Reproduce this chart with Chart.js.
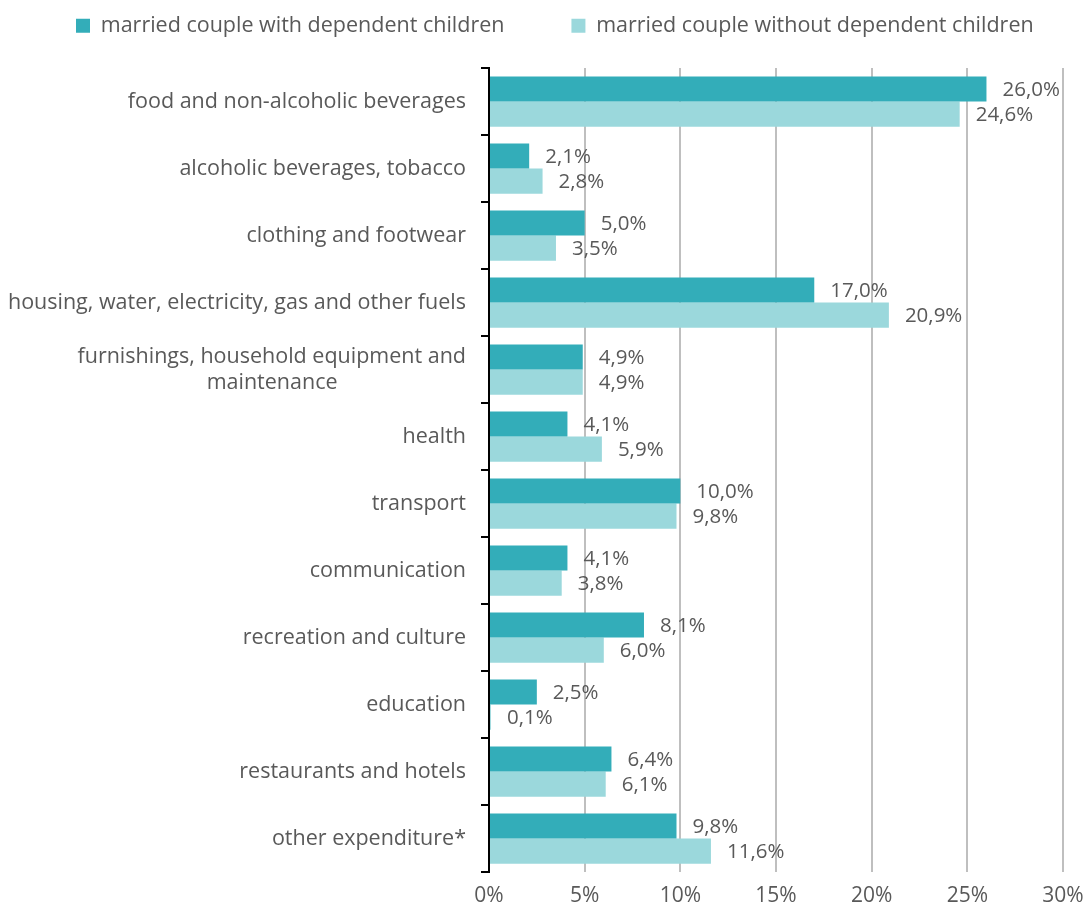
<!DOCTYPE html>
<html><head><meta charset="utf-8">
<script src="https://cdn.jsdelivr.net/npm/chart.js@4"></script>
<style>html,body{margin:0;padding:0;background:#fff}#wrap{width:1089px;height:914px;position:relative}</style>
</head><body><div id="wrap"><canvas id="c"></canvas></div>
<script>
const categories = [
  "food and non-alcoholic beverages",
  "alcoholic beverages, tobacco",
  "clothing and footwear",
  "housing, water, electricity, gas and other fuels",
  ["furnishings, household equipment and", "maintenance" + "\u00A0".repeat(23)],
  "health",
  "transport",
  "communication",
  "recreation and culture",
  "education",
  "restaurants and hotels",
  "other expenditure*"
];
const seriesNames = ["married couple with dependent children", "married couple without dependent children"];
const withChildren = [26.0, 2.1, 5.0, 17.0, 4.9, 4.1, 10.0, 4.1, 8.1, 2.5, 6.4, 9.8];
const withoutChildren = [24.6, 2.8, 3.5, 20.9, 4.9, 5.9, 9.8, 3.8, 6.0, 0.1, 6.1, 11.6];
const xTickValues = [0, 5, 10, 15, 20, 25, 30];

const FONT = '"Open Sans"';
const GREY = '#595959';
Chart.defaults.font.family = FONT;
Chart.defaults.font.size = 20;
Chart.defaults.color = GREY;

const fmt = v => v.toFixed(1).replace('.', ',') + '%';

const labelPlugin = {
  id: 'valueLabels',
  afterDatasetsDraw(chart) {
    const ctx = chart.ctx;
    ctx.save();
    ctx.font = '20.5px ' + FONT;
    ctx.fillStyle = GREY;
    ctx.textAlign = 'left';
    ctx.textBaseline = 'middle';
    chart.data.datasets.forEach((ds, i) => {
      const meta = chart.getDatasetMeta(i);
      meta.data.forEach((el, j) => {
        const txt = fmt(ds.data[j]);
        let x = el.x + 16;
        const w = ctx.measureText(txt).width;
        if (x + w > chart.width - 2) x = chart.width - 2 - w;
        ctx.fillText(txt, x, el.y + 1);
      });
    });
    ctx.restore();
  }
};

const LEGEND_START_X = 76;
const legendHack = {
  id: 'legendHack',
  beforeInit(chart) {
    const lg = chart.legend;
    const origFit = lg.fit.bind(lg);
    lg.fit = function () {
      const mw = this.maxWidth;
      this.maxWidth = 4000;
      origFit();
      this.maxWidth = mw;
      this.width = mw;
      this.height = 68;
    };
    const origDraw = lg.draw.bind(lg);
    lg.draw = function () {
      const t = this.top, l = this.left, r = this.right;
      const P = this.options.labels.padding;
      const lw = this.lineWidths[0];
      const R = 3000;
      this.top = 15 - P;
      this.right = R;
      this.left = 2 * LEGEND_START_X - P - R + lw;
      origDraw();
      this.top = t; this.left = l; this.right = r;
    };
  }
};

new Chart(document.getElementById('c'), {
  type: 'bar',
  data: {
    labels: categories,
    datasets: [
      { label: seriesNames[0], data: withChildren, backgroundColor: '#33adb9', borderWidth: 0 },
      { label: seriesNames[1], data: withoutChildren, backgroundColor: '#9bd8dc', borderWidth: 0 }
    ]
  },
  options: {
    indexAxis: 'y',
    responsive: true,
    maintainAspectRatio: false,
    animation: false,
    datasets: { bar: { categoryPercentage: 0.75, barPercentage: 1.0 } },
    layout: { padding: { left: 0, right: 26, top: 0, bottom: 0 } },
    plugins: {
      legend: {
        position: 'top',
        labels: { boxWidth: 14, boxHeight: 14, padding: 67, color: GREY, font: { size: 21.5, family: FONT } }
      },
      tooltip: { enabled: false }
    },
    scales: {
      x: {
        min: 0, max: 30,
        afterBuildTicks(scale) { scale.ticks = xTickValues.map(v => ({ value: v })); },
        afterFit(scale) { scale.height = 42; scale.paddingRight = 0; scale.paddingLeft = 0; },
        ticks: { callback: v => v + '%', padding: 11, color: GREY, font: { size: 21 } },
        grid: { color: '#bfbfbf', lineWidth: 2, drawTicks: false },
        border: { display: false }
      },
      y: {
        afterFit(scale) { scale.width = 489; },
        ticks: { padding: 15, color: GREY, font: { size: 21.5 }, crossAlign: 'near' },
        grid: { offset: true, drawOnChartArea: false, tickLength: 8, color: '#000', lineWidth: 2 },
        border: { color: '#000', width: 2 }
      }
    }
  },
  plugins: [labelPlugin, legendHack]
});
</script>
</body></html>
